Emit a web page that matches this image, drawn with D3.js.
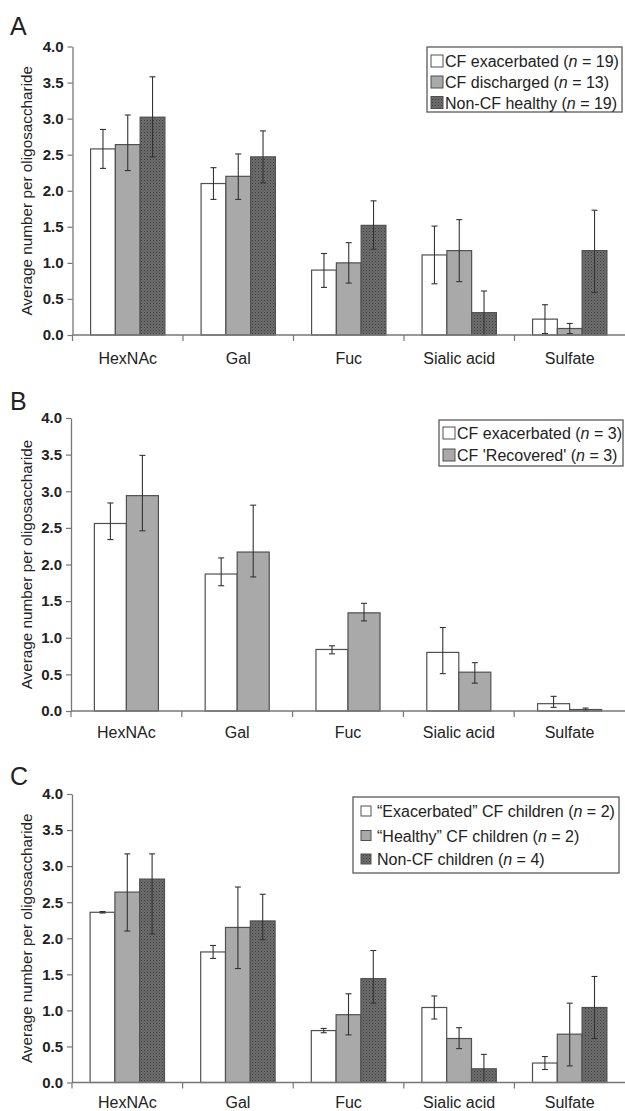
<!DOCTYPE html>
<html>
<head>
<meta charset="utf-8">
<script src="https://cdn.jsdelivr.net/npm/d3@7"></script>
<style>
  html, body { margin: 0; padding: 0; background: #fff; }
  svg { display: block; }
  text { font-family: 'Liberation Sans', Arial, sans-serif; fill: #222; }
</style>
</head>
<body>
<div id="chart"></div>
<script>
// Oligosaccharide composition, three panels (A, B, C)

const categories = ['HexNAc', 'Gal', 'Fuc', 'Sialic acid', 'Sulfate']
const yTickValues = [0, 0.5, 1.0, 1.5, 2.0, 2.5, 3.0, 3.5, 4.0]

// Panel A
const aLabels = ['CF exacerbated', 'CF discharged', 'Non-CF healthy']
const aN = [19, 13, 19]
const aExacerbated = [2.58, 2.10, 0.90, 1.11, 0.22]
const aExacerbatedErr = [[2.31, 2.85], [1.88, 2.32], [0.66, 1.13], [0.71, 1.51], [0.02, 0.42]]
const aDischarged = [2.64, 2.20, 1.00, 1.17, 0.09]
const aDischargedErr = [[2.28, 3.05], [1.88, 2.51], [0.72, 1.28], [0.74, 1.60], [0.02, 0.16]]
const aHealthy = [3.02, 2.47, 1.52, 0.31, 1.17]
const aHealthyErr = [[2.47, 3.58], [2.11, 2.83], [1.19, 1.86], [0.00, 0.61], [0.59, 1.73]]

// Panel B
const bLabels = ['CF exacerbated', "CF 'Recovered'"]
const bN = [3, 3]
const bExacerbated = [2.56, 1.87, 0.84, 0.80, 0.10]
const bExacerbatedErr = [[2.34, 2.84], [1.71, 2.09], [0.78, 0.89], [0.51, 1.14], [0.05, 0.20]]
const bRecovered = [2.94, 2.17, 1.34, 0.53, 0.02]
const bRecoveredErr = [[2.46, 3.49], [1.83, 2.81], [1.23, 1.47], [0.38, 0.66], [0.00, 0.04]]

// Panel C
const cLabels = ['\u201CExacerbated\u201D CF children', '\u201CHealthy\u201D CF children', 'Non-CF children']
const cN = [2, 2, 4]
const cExacerbated = [2.36, 1.81, 0.72, 1.04, 0.27]
const cExacerbatedErr = [[2.35, 2.37], [1.72, 1.90], [0.69, 0.75], [0.88, 1.20], [0.18, 0.36]]
const cHealthyCF = [2.64, 2.15, 0.94, 0.61, 0.67]
const cHealthyCFErr = [[2.10, 3.17], [1.58, 2.71], [0.66, 1.23], [0.47, 0.76], [0.23, 1.10]]
const cNonCF = [2.82, 2.24, 1.44, 0.19, 1.04]
const cNonCFErr = [[2.06, 3.17], [1.98, 2.61], [1.10, 1.83], [0.00, 0.39], [0.61, 1.47]]

const W = 625, H = 1111
const FILL_WHITE = '#ffffff'
const FILL_GREY = '#a9a9a9'
const FILL_DARK = 'url(#stipple)'

const svg = d3.select('#chart').append('svg')
  .attr('width', W)
  .attr('height', H)
  .attr('viewBox', `0 0 ${W} ${H}`)

// Stipple texture for the dark bars
const pat = svg.append('defs').append('pattern')
  .attr('id', 'stipple')
  .attr('width', 3)
  .attr('height', 3)
  .attr('patternUnits', 'userSpaceOnUse')
pat.append('rect').attr('width', 3).attr('height', 3).attr('fill', '#6e6e6e')
pat.append('rect').attr('x', 0).attr('y', 0).attr('width', 1).attr('height', 1).attr('fill', '#3c3c3c')
pat.append('rect').attr('x', 1.5).attr('y', 1.5).attr('width', 1).attr('height', 1).attr('fill', '#4a4a4a')

const panels = [
  {
    letter: 'A', letterY: 35, left: 72.5, top: 46.5, bottom: 335, labelPad: 18,
    series: [
      { label: aLabels[0], n: aN[0], values: aExacerbated, err: aExacerbatedErr, fill: FILL_WHITE },
      { label: aLabels[1], n: aN[1], values: aDischarged, err: aDischargedErr, fill: FILL_GREY },
      { label: aLabels[2], n: aN[2], values: aHealthy, err: aHealthyErr, fill: FILL_DARK }
    ],
    legend: { x: 427, y: 47, w: 195, h: 65, rowY: [61, 82, 102.5], swatch: 12, sx: 431, tx: 445 }
  },
  {
    letter: 'B', letterY: 410, left: 71, top: 418, bottom: 711, labelPad: 16,
    series: [
      { label: bLabels[0], n: bN[0], values: bExacerbated, err: bExacerbatedErr, fill: FILL_WHITE },
      { label: bLabels[1], n: bN[1], values: bRecovered, err: bRecoveredErr, fill: FILL_GREY }
    ],
    legend: { x: 439, y: 420, w: 184, h: 46, rowY: [433, 455], swatch: 12, sx: 443, tx: 457 }
  },
  {
    letter: 'C', letterY: 785, left: 72, top: 794, bottom: 1082.5, labelPad: 14.5,
    series: [
      { label: cLabels[0], n: cN[0], values: cExacerbated, err: cExacerbatedErr, fill: FILL_WHITE },
      { label: cLabels[1], n: cN[1], values: cHealthyCF, err: cHealthyCFErr, fill: FILL_GREY },
      { label: cLabels[2], n: cN[2], values: cNonCF, err: cNonCFErr, fill: FILL_DARK }
    ],
    legend: { x: 353, y: 797, w: 266, h: 76, rowY: [811, 835.5, 859], swatch: 10, sx: 361, tx: 377 }
  }
]

panels.forEach(drawPanel)

function drawPanel(p) {
  const g = svg.append('g')
  const right = W

  const x = d3.scaleBand()
    .domain(categories)
    .range([p.left, right])
    .paddingInner(0)
    .paddingOuter(0)

  const x1 = d3.scaleBand()
    .domain(d3.range(p.series.length))
    .range([0, x.bandwidth()])
    .paddingInner(0)
    .paddingOuter(0.73)

  const y = d3.scaleLinear()
    .domain([0, 4])
    .range([p.bottom, p.top])

  // Panel letter
  g.append('text')
    .attr('x', 10)
    .attr('y', p.letterY)
    .attr('font-size', '25px')
    .text(p.letter)

  // Bars
  p.series.forEach((s, si) => {
    g.append('g')
      .selectAll('rect')
      .data(s.values)
      .join('rect')
      .attr('x', (d, i) => x(categories[i]) + x1(si))
      .attr('y', d => y(d))
      .attr('width', x1.bandwidth())
      .attr('height', d => y(0) - y(d))
      .attr('fill', s.fill)
      .attr('stroke', '#505050')
      .attr('stroke-width', 1.2)
  })

  // Error bars
  p.series.forEach((s, si) => {
    const eg = g.append('g')
      .attr('stroke', '#333')
      .attr('stroke-width', 1.1)
    s.err.forEach((e, i) => {
      const cx = x(categories[i]) + x1(si) + x1.bandwidth() / 2
      eg.append('line').attr('x1', cx).attr('x2', cx).attr('y1', y(e[0])).attr('y2', y(e[1]))
      eg.append('line').attr('x1', cx - 3).attr('x2', cx + 3).attr('y1', y(e[0])).attr('y2', y(e[0]))
      eg.append('line').attr('x1', cx - 3).attr('x2', cx + 3).attr('y1', y(e[1])).attr('y2', y(e[1]))
    })
  })

  // Y axis
  const yAxis = g.append('g')
    .attr('transform', `translate(${p.left},0)`)
    .call(d3.axisLeft(y)
      .tickValues(yTickValues)
      .tickFormat(d3.format('.1f'))
      .tickSize(5)
      .tickSizeOuter(0)
      .tickPadding(4))
  yAxis.select('.domain').attr('stroke', '#777').attr('stroke-width', 1.3)
  yAxis.selectAll('.tick line').attr('stroke', '#777').attr('stroke-width', 1.2)
  yAxis.selectAll('.tick text')
    .attr('font-family', "'Liberation Sans', Arial, sans-serif")
    .attr('font-size', '15px')
    .attr('font-weight', 'bold')
    .attr('fill', '#2a2a2a')

  // X axis: line, boundary ticks, labels
  const xAxis = g.append('g')
    .attr('transform', `translate(0,${p.bottom})`)
    .call(d3.axisBottom(x).tickSize(0).tickPadding(p.labelPad))
  xAxis.select('.domain').remove()
  xAxis.selectAll('.tick text')
    .attr('font-family', "'Liberation Sans', Arial, sans-serif")
    .attr('font-size', '16px')
    .attr('fill', '#222')

  g.append('line')
    .attr('x1', p.left).attr('x2', right)
    .attr('y1', p.bottom).attr('y2', p.bottom)
    .attr('stroke', '#777').attr('stroke-width', 1.3)

  g.append('g')
    .selectAll('line')
    .data(categories)
    .join('line')
    .attr('x1', d => x(d)).attr('x2', d => x(d))
    .attr('y1', p.bottom).attr('y2', p.bottom + 6)
    .attr('stroke', '#777').attr('stroke-width', 1.2)

  // Y axis title
  g.append('text')
    .attr('transform', `translate(32,${(p.top + p.bottom) / 2}) rotate(-90)`)
    .attr('text-anchor', 'middle')
    .attr('font-size', '15.3px')
    .attr('fill', '#2a2a2a')
    .text('Average number per oligosaccharide')

  // Legend
  const L = p.legend
  const lg = g.append('g')
  lg.append('rect')
    .attr('x', L.x).attr('y', L.y)
    .attr('width', L.w).attr('height', L.h)
    .attr('fill', '#fff')
    .attr('stroke', '#666')
    .attr('stroke-width', 1.4)

  p.series.forEach((s, si) => {
    const cy = L.rowY[si]
    lg.append('rect')
      .attr('x', L.sx).attr('y', cy - L.swatch / 2)
      .attr('width', L.swatch).attr('height', L.swatch)
      .attr('fill', s.fill)
      .attr('stroke', '#505050')
      .attr('stroke-width', 1)
    const t = lg.append('text')
      .attr('x', L.tx).attr('y', cy + 6)
      .attr('font-size', '16px')
      .attr('fill', '#222')
    t.append('tspan').text(`${s.label} (`)
    t.append('tspan').attr('font-style', 'italic').text('n')
    t.append('tspan').text(` = ${s.n})`)
  })
}
</script>
</body>
</html>
